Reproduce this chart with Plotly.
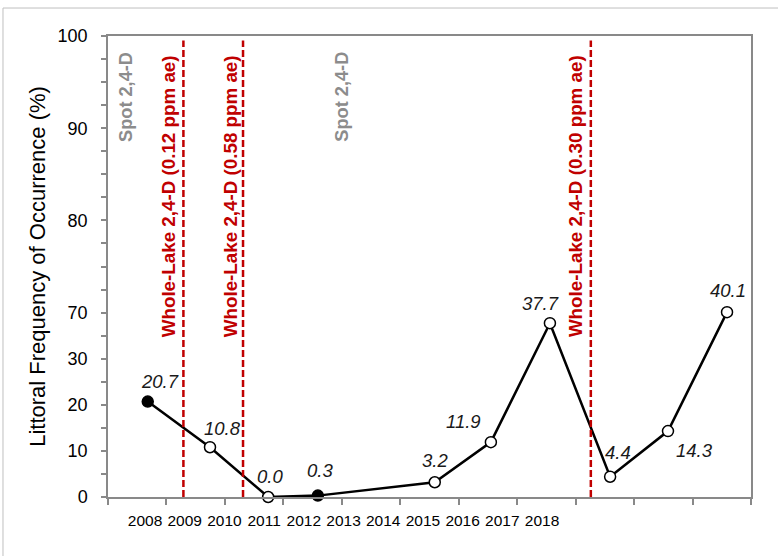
import plotly.graph_objects as go

# ---- data ----
years = ["2008", "2009", "2010", "2011", "2012", "2013", "2014", "2015", "2016", "2017", "2018"]
survey_pos = [0.68, 1.745, 2.74, 3.59, 5.59, 6.55, 7.56, 8.59, 9.58, 10.59]
frequency = [20.7, 10.8, 0.0, 0.3, 3.2, 11.9, 37.7, 4.4, 14.3, 40.1]
filled = [True, False, False, True, False, False, False, False, False, False]
y_tickvals = [0, 10, 20, 30, 40, 60, 80, 100]
y_ticktext = ["0", "10", "20", "30", "70", "80", "90", "100"]
treat_pos = [0.31, 1.03, 2.09, 4.0, 7.99]
treat_text = ["Spot 2,4-D", "Whole-Lake 2,4-D (0.12 ppm ae)", "Whole-Lake 2,4-D (0.58 ppm ae)",
              "Spot 2,4-D", "Whole-Lake 2,4-D (0.30 ppm ae)"]
treat_lines = [1.29, 2.31, 8.26]

# ---- styles ----
label_shift = [(12, 20), (12, 19), (2, 21), (2, 25), (0, 22), (-27, 21), (-9, 20), (8, 24), (27, -19), (1, 22)]
RED = "#C00000"
GRAY = "#898989"
FONT = "Liberation Sans, Arial"

fig = go.Figure()

fig.add_trace(go.Scatter(
    x=survey_pos, y=frequency, mode="lines+markers",
    line=dict(color="black", width=2.5),
    marker=dict(size=11, color=["black" if f else "white" for f in filled],
                line=dict(color="black", width=1.5)),
    showlegend=False, hoverinfo="skip", cliponaxis=False,
))

# invisible trace on the year-label axis
fig.add_trace(go.Scatter(x=list(range(len(years))), y=[None] * len(years), xaxis="x2",
                         mode="markers", showlegend=False, hoverinfo="skip"))

for xv in treat_lines:
    fig.add_shape(type="line", x0=xv, x1=xv, y0=0, y1=99, xref="x", yref="y",
                  line=dict(color=RED, width=2.5, dash="7px,3px"))

for xv, t in zip(treat_pos, treat_text):
    spot = t.startswith("Spot")
    fig.add_annotation(x=xv, y=97 if spot else 96.3, xref="x", yref="y", text=f"<b>{t}</b>",
                       textangle=-90, showarrow=False, yanchor="top", xanchor="center",
                       font=dict(family=FONT, size=18.2 if spot else 18.8,
                                 color="#8C8C8C" if spot else RED))

for xv, yv, (dx, dy) in zip(survey_pos, frequency, label_shift):
    fig.add_annotation(x=xv, y=yv, xref="x", yref="y", text=f"<i>{yv:.1f}</i>",
                       showarrow=False, xshift=dx, yshift=dy,
                       font=dict(family=FONT, size=18.5, color="#1a1a1a"))

# outer chart border
fig.add_shape(type="rect", xref="paper", yref="paper", x0=-0.1633, x1=1.06, y0=-0.14, y1=1.0607,
              line=dict(color="#BFBFBF", width=1), fillcolor="rgba(0,0,0,0)", layer="below")

fig.update_layout(
    width=778, height=556,
    margin=dict(l=108, r=27, t=36, b=59),
    paper_bgcolor="white", plot_bgcolor="white",
    font=dict(family=FONT, color="black"),
    xaxis=dict(range=[0, 11], tickvals=list(range(12)), showticklabels=False,
               showline=True, linecolor=GRAY, linewidth=1.5, mirror=True,
               ticks="outside", ticklen=6, tickwidth=1.5, tickcolor=GRAY,
               showgrid=False, zeroline=False, fixedrange=True),
    xaxis2=dict(overlaying="x", anchor="y", side="bottom", range=[-0.932, 15.264],
                tickvals=list(range(len(years))), ticktext=years, showline=False,
                showgrid=False, zeroline=False, ticks="", ticklabelstandoff=12,
                tickfont=dict(size=15.5, color="black")),
    yaxis=dict(range=[0, 100], tickvals=y_tickvals, ticktext=y_ticktext,
               showline=True, linecolor=GRAY, linewidth=1.5, mirror=True,
               ticks="outside", ticklen=5, tickwidth=1.5, tickcolor=GRAY,
               minor=dict(dtick=5, ticks="outside", ticklen=5, tickcolor=GRAY, tickwidth=1.5),
               tickfont=dict(size=18, color="black"), ticklabelstandoff=10,
               showgrid=False, zeroline=False,
               title=dict(text="Littoral Frequency of Occurrence (%)", font=dict(size=22, color="black"),
                          standoff=6)),
)

fig.write_html("out.html")
